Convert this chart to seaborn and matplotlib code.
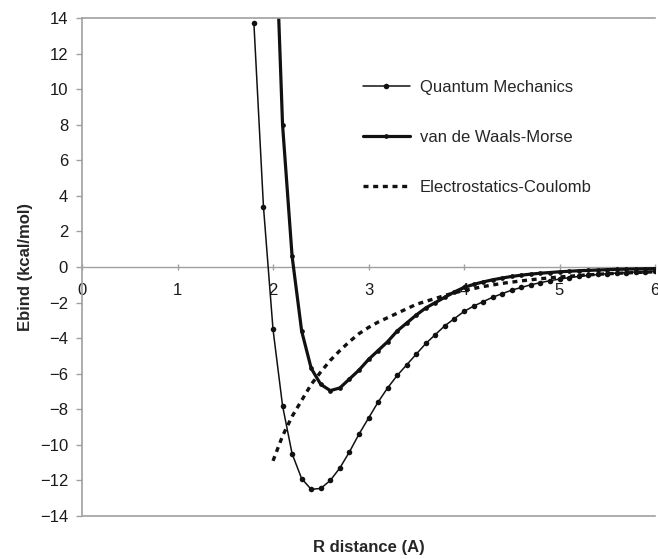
import numpy as np
import pandas as pd
import matplotlib
matplotlib.use("Agg")
import matplotlib.pyplot as plt
import seaborn as sns

# ---- data ----
r_qm = [1.8, 1.9, 2.0, 2.1, 2.2, 2.3, 2.4, 2.5, 2.6, 2.7, 2.8, 2.9, 3.0, 3.1, 3.2, 3.3,
        3.4, 3.5, 3.6, 3.7, 3.8, 3.9, 4.0, 4.1, 4.2, 4.3, 4.4, 4.5, 4.6, 4.7, 4.8, 4.9,
        5.0, 5.1, 5.2, 5.3, 5.4, 5.5, 5.6, 5.7, 5.8, 5.9, 6.0]
e_qm = [13.7, 3.4, -3.5, -7.8, -10.5, -11.9, -12.5, -12.45, -12.0, -11.3, -10.4, -9.4,
        -8.5, -7.6, -6.8, -6.1, -5.5, -4.9, -4.3, -3.8, -3.3, -2.9, -2.5, -2.2, -1.95,
        -1.7, -1.5, -1.3, -1.15, -1.0, -0.88, -0.77, -0.68, -0.6, -0.53, -0.47, -0.42,
        -0.38, -0.34, -0.31, -0.28, -0.26, -0.24]

r_vdw = [2.0, 2.1, 2.2, 2.3, 2.4, 2.5, 2.6, 2.7, 2.8, 2.9, 3.0, 3.1, 3.2, 3.3, 3.4, 3.5,
         3.6, 3.7, 3.8, 3.9, 4.0, 4.1, 4.2, 4.3, 4.4, 4.5, 4.6, 4.7, 4.8, 4.9, 5.0, 5.1,
         5.2, 5.3, 5.4, 5.5, 5.6, 5.7, 5.8, 5.9, 6.0]
e_vdw = [23.0, 8.0, 0.6, -3.6, -5.7, -6.6, -6.95, -6.8, -6.3, -5.8, -5.2, -4.7, -4.2,
         -3.6, -3.15, -2.7, -2.3, -2.0, -1.7, -1.4, -1.15, -0.98, -0.84, -0.72, -0.62,
         -0.53, -0.46, -0.4, -0.35, -0.31, -0.27, -0.24, -0.21, -0.19, -0.17, -0.15,
         -0.13, -0.12, -0.11, -0.10, -0.09]

r_es = [2.0, 2.1, 2.2, 2.3, 2.4, 2.5, 2.6, 2.7, 2.8, 2.9, 3.0, 3.1, 3.2, 3.3, 3.4, 3.5,
        3.6, 3.7, 3.8, 3.9, 4.0, 4.2, 4.4, 4.6, 4.8, 5.0, 5.25, 5.5, 5.75, 6.0]
e_es = [-10.9, -9.5, -8.4, -7.5, -6.6, -5.9, -5.25, -4.7, -4.2, -3.75, -3.4, -3.1,
        -2.85, -2.6, -2.35, -2.1, -1.93, -1.77, -1.6, -1.45, -1.32, -1.1, -0.92, -0.78,
        -0.66, -0.56, -0.46, -0.38, -0.32, -0.27]

labels = ["Quantum Mechanics", "van de Waals-Morse", "Electrostatics-Coulomb"]
x_ticks = [0, 1, 2, 3, 4, 5, 6]
y_ticks = [14, 12, 10, 8, 6, 4, 2, 0, -2, -4, -6, -8, -10, -12, -14]

sns.set_style("white")
plt.rcParams['font.family'] = ['Liberation Sans', 'DejaVu Sans']

fig = plt.figure(figsize=(6.58, 5.59), dpi=100)
ax = fig.add_axes([82/658, 43/559, 573/658, 498/559])

gray = "#a0a0a0"
ink = "#111111"

sns.lineplot(x=r_qm, y=e_qm, ax=ax, color=ink, lw=1.1, marker='o', markersize=4.0,
             markeredgewidth=0, label=labels[0], sort=False)
sns.lineplot(x=r_vdw, y=e_vdw, ax=ax, color=ink, lw=2.3, marker='o', markersize=3.4,
             markeredgewidth=0, label=labels[1], sort=False)
sns.lineplot(x=r_es, y=e_es, ax=ax, color=ink, lw=2.4, linestyle=(0, (1.5, 1.4)),
             label=labels[2], sort=False)

ax.set_xlim(0, 6)
ax.set_ylim(-14, 14)
ax.set_yticks(y_ticks)
ax.set_yticklabels([("\u2212" + str(-v)) if v < 0 else str(v) for v in y_ticks])
ax.set_xticks([])
ax.tick_params(axis='y', direction='out', length=4, width=1, color=gray,
               labelsize=12, pad=6, labelcolor="#1a1a1a", left=True)

for s in ['left', 'top', 'bottom']:
    ax.spines[s].set_visible(True)
    ax.spines[s].set_color(gray)
    ax.spines[s].set_linewidth(1.2)
ax.spines['right'].set_visible(False)

# axis through zero
sec = ax.secondary_xaxis(0, transform=ax.transData)
sec.set_xticks(x_ticks)
sec.set_xticklabels([str(v) for v in x_ticks])
sec.tick_params(axis='x', direction='inout', length=5, width=1, color=gray,
                labelsize=12, pad=9, labelcolor="#1a1a1a")
sec.spines['bottom'].set_color(gray)
sec.spines['bottom'].set_linewidth(1.0)

ax.set_xlabel("R distance (A)", fontsize=12, fontweight='bold', labelpad=17)
ax.set_ylabel("Ebind (kcal/mol)", fontsize=12, fontweight='bold', labelpad=5)

ax.legend(loc='upper left', bbox_to_anchor=(363/658, 1 - 80/559),
          bbox_transform=fig.transFigure, frameon=False, fontsize=12,
          handlelength=2.8, handletextpad=0.6, labelspacing=2.1, numpoints=1,
          borderpad=0, borderaxespad=0)

fig.savefig("out.png", dpi=100)
